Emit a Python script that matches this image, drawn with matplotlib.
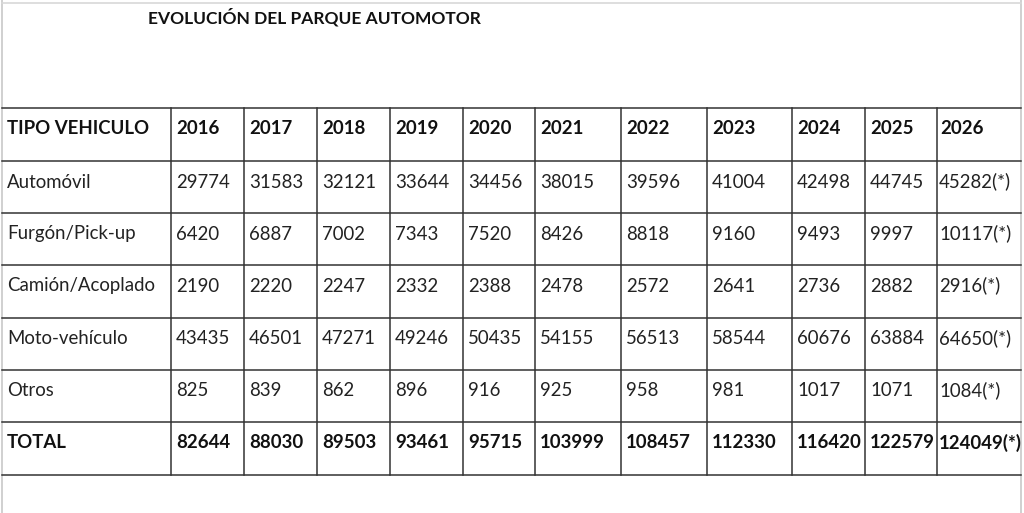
import matplotlib
matplotlib.use("Agg")
import matplotlib.pyplot as plt

title = "EVOLUCIÓN DEL PARQUE AUTOMOTOR"
header_label = "TIPO VEHICULO"
years = ["2016", "2017", "2018", "2019", "2020", "2021", "2022", "2023", "2024", "2025", "2026"]
categories = ["Automóvil", "Furgón/Pick-up", "Camión/Acoplado", "Moto-vehículo", "Otros", "TOTAL"]
automovil = [29774, 31583, 32121, 33644, 34456, 38015, 39596, 41004, 42498, 44745, 45282]
furgon = [6420, 6887, 7002, 7343, 7520, 8426, 8818, 9160, 9493, 9997, 10117]
camion = [2190, 2220, 2247, 2332, 2388, 2478, 2572, 2641, 2736, 2882, 2916]
moto = [43435, 46501, 47271, 49246, 50435, 54155, 56513, 58544, 60676, 63884, 64650]
otros = [825, 839, 862, 896, 916, 925, 958, 981, 1017, 1071, 1084]
total = [82644, 88030, 89503, 93461, 95715, 103999, 108457, 112330, 116420, 122579, 124049]
projected_year = "2026"
projected_mark = "(*)"

series = [automovil, furgon, camion, moto, otros, total]

W, H = 1024, 513
fig = plt.figure(figsize=(W / 100, H / 100), dpi=100)
ax = fig.add_axes([0, 0, 1, 1])
ax.set_xlim(0, W)
ax.set_ylim(H, 0)
ax.axis("off")

font = ["Lato", "DejaVu Sans"]

# layout
col_edges = [2, 171, 244, 317, 390, 463, 535, 621, 707, 792, 865, 937, 1021]
row_edges = [108, 161, 213, 265, 318, 370, 422, 475]

# outer light border
ax.plot([2, 2], [0, H], color="#c8c8c8", lw=1.2)
ax.plot([1021, 1021], [0, H], color="#c8c8c8", lw=1.2)
ax.plot([2, 1021], [2.5, 2.5], color="#d8d8d8", lw=1.2)

# grid lines
for y in row_edges:
    ax.plot([2, 1021], [y, y], color="#333333", lw=1.1)
for x in col_edges[1:-1]:
    ax.plot([x, x], [row_edges[0], row_edges[-1]], color="#333333", lw=1.1)

ax.text(148, 23, title, fontsize=12.5, fontweight="bold", family=font,
        ha="left", va="baseline", color="#111111")

pad = 5
fs = 13.4
base = 26.5
# header row
ty = row_edges[0] + base
ax.text(col_edges[0] + pad, ty, header_label, fontsize=fs, fontweight="bold",
        family=font, ha="left", va="baseline", color="#111111")
for j, yr in enumerate(years):
    x0 = col_edges[j + 1] + (3 if yr == projected_year else pad)
    ax.text(x0, ty, yr, fontsize=fs, fontweight="bold",
            family=font, ha="left", va="baseline", color="#111111")

for i, (cat, vals) in enumerate(zip(categories, series)):
    ty = row_edges[i + 1] + base
    bold = cat == "TOTAL"
    w = "bold" if bold else "normal"
    col = "#111111" if bold else "#222222"
    ax.text(col_edges[0] + pad, ty, cat, fontsize=fs, fontweight=w,
            family=font, ha="left", va="baseline", color=col)
    for j, v in enumerate(vals):
        s = str(v) + (projected_mark if years[j] == projected_year else "")
        x0 = col_edges[j + 1] + (2 if years[j] == projected_year else pad)
        ax.text(x0, ty, s, fontsize=fs, fontweight=w,
                family=font, ha="left", va="baseline", color=col)

fig.savefig("out.png", dpi=100, facecolor="white")
